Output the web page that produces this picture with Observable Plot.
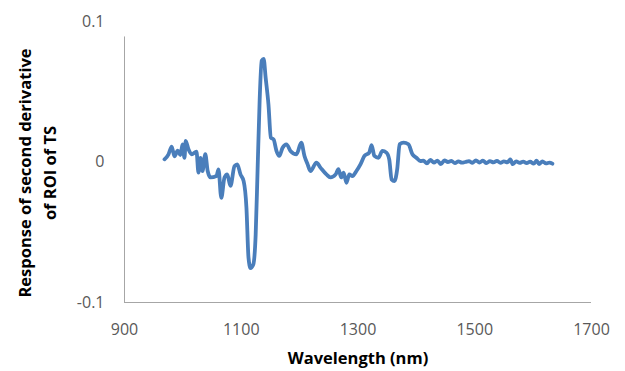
<!DOCTYPE html>
<html>
<head>
<meta charset="utf-8">
<script src="https://cdn.jsdelivr.net/npm/d3@7"></script>
<script src="https://cdn.jsdelivr.net/npm/@observablehq/plot@0.6"></script>
<style>
  html, body { margin: 0; padding: 0; background: #ffffff; }
  #chart { width: 625px; height: 371px; }
</style>
</head>
<body>
<div id="chart"></div>
<script>
// Wavelength (nm)
const wavelength = [
  968.5, 975.4, 980.8, 985.6, 991.1, 995.9, 999.3, 1002.8, 1004.8, 1009.6,
  1015.1, 1023.3, 1026.7, 1030.2, 1033.6, 1038.4, 1042.5, 1047.3, 1057.6, 1061,
  1065.8, 1071.3, 1076, 1081.5, 1088.4, 1093.2, 1098.7, 1104.1, 1108.9, 1112.4,
  1115.8, 1120.6, 1124.7, 1128.1, 1131.5, 1135, 1138.4, 1141.8, 1146.6, 1150.7,
  1155.5, 1160.3, 1165.1, 1170.6, 1177.4, 1184.3, 1194.6, 1202.8, 1208.3, 1213.7,
  1218.5, 1228.8, 1235.7, 1245.9, 1252.8, 1261.7, 1266.5, 1271.3, 1275.4, 1280.2,
  1285, 1290.5, 1297.3, 1304.2, 1311, 1319.2, 1323.3, 1328.1, 1335, 1341.8,
  1348.7, 1353.5, 1357.6, 1362.4, 1367.2, 1371.3, 1378.1, 1386.4, 1393.2, 1400,
  1406.9, 1412, 1418, 1424, 1430, 1436, 1442, 1448, 1454, 1460,
  1466, 1472, 1478, 1484, 1490, 1496, 1502, 1508, 1514, 1520,
  1526, 1532, 1538, 1544, 1550, 1556, 1561, 1565, 1571, 1577,
  1583, 1589, 1595, 1601, 1606, 1610, 1616, 1622, 1628, 1633
];
// Response of second derivative of ROI of TS
const response = [
  0.0019, 0.0055, 0.011, 0.004, 0.008, 0.005, 0.0126, 0.003, 0.015, 0.009,
  0.0055, 0.0074, -0.0076, 0.003, -0.0064, 0.0055, -0.0064, -0.011, -0.010, -0.0052,
  -0.0255, -0.011, -0.0088, -0.017, -0.003, -0.0017, -0.0088, -0.0136, -0.0326, -0.068,
  -0.0755, -0.073, -0.0517, -0.004, 0.0436, 0.0721, 0.0733, 0.060, 0.041, 0.0174,
  0.016, 0.0079, 0.0043, 0.010, 0.0126, 0.0079, 0.0055, 0.0138, 0.0043, -0.0017,
  -0.0064, -0.0005, -0.004, -0.0088, -0.011, -0.0088, -0.005, -0.011, -0.0076, -0.0148,
  -0.0088, -0.010, -0.0064, -0.0017, 0.0043, 0.0067, 0.012, 0.0043, 0.003, 0.0079,
  0.0067, 0.0019, -0.0124, -0.0136, -0.005, 0.0126, 0.0138, 0.0126, 0.0055, 0.003,
  0.0007, 0.001, -0.001, 0.0015, -0.0005, 0.001, -0.0015, 0.0012, 0, 0.0008,
  -0.0008, 0.0005, -0.0005, 0, 0.0006, -0.0006, 0.0012, -0.0004, 0.0010, -0.0008,
  0.0006, -0.0003, 0.0008, -0.0006, 0.0004, -0.0002, 0.0018, -0.0015, 0.0004, -0.0006,
  0.0003, -0.0008, 0.0002, -0.0012, 0.0010, -0.0015, 0.0005, -0.0010, -0.0004, -0.0012
];
const xTicks = [900, 1100, 1300, 1500, 1700];
const yTicks = [-0.1, 0, 0.1];
const yAxisTop = 0.089;

const data = wavelength.map((w, i) => ({w, v: response[i]}));

const font = "'Open Sans', sans-serif";
const plot = Plot.plot({
  width: 625,
  height: 371,
  marginTop: 21,
  marginBottom: 69,
  marginLeft: 124,
  marginRight: 34,
  style: {fontFamily: font, background: "#ffffff"},
  x: {domain: [900, 1700]},
  y: {domain: [-0.1, 0.1]},
  marks: [
    Plot.ruleY([-0.1], {x1: 900, x2: 1700, stroke: "#a6a6a6", strokeWidth: 1}),
    Plot.ruleX([900], {y1: -0.1, y2: yAxisTop, stroke: "#a6a6a6", strokeWidth: 1}),
    Plot.axisX(xTicks, {tickSize: 0, tickPadding: 21, fontSize: 16, fill: "#595959", label: null,
      tickFormat: d => String(d)}),
    Plot.axisY(yTicks, {tickSize: 0, tickPadding: 20, fontSize: 16, fill: "#595959", label: null,
      tickFormat: d => String(d)}),
    Plot.line(data, {x: "w", y: "v", stroke: "#4a7ebb", strokeWidth: 3.8, curve: "monotone-x",
      strokeLinejoin: "round", strokeLinecap: "round"}),
    Plot.text(["Wavelength (nm)"], {frameAnchor: "bottom", lineAnchor: "middle", dy: 56,
      fontSize: 16.5, fontWeight: "bold", fill: "#000000"}),
    Plot.text(["Response of second derivative\nof ROI of TS"], {frameAnchor: "left", lineAnchor: "middle",
      textAnchor: "middle", rotate: -90, dx: -89, dy: 11, lineHeight: 1.5,
      fontSize: 16.5, fontWeight: "bold", fill: "#000000"})
  ]
});
document.getElementById("chart").appendChild(plot);
</script>
</body>
</html>
